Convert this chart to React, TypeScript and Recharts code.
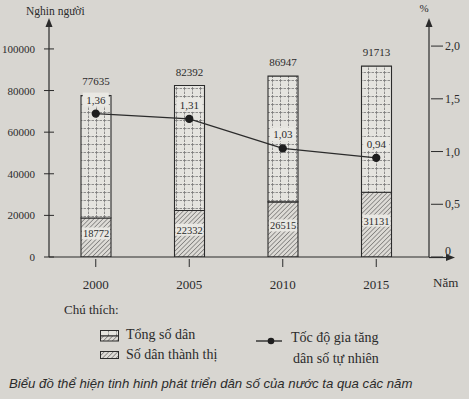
import React from "react";
import {
  ComposedChart,
  Bar,
  Line,
  XAxis,
  YAxis,
  LabelList,
} from "recharts";

const years = ["2000", "2005", "2010", "2015"];
const totalPop = [77635, 82392, 86947, 91713];
const urbanPop = [18772, 22332, 26515, 31131];
const growthRate = [1.36, 1.31, 1.03, 0.94];
const leftTicks = [0, 20000, 40000, 60000, 80000, 100000];
const rightTicks = [0, 0.5, 1.0, 1.5, 2.0];

const data = years.map((year, i) => ({
  year,
  total: totalPop[i],
  urban: urbanPop[i],
  rest: totalPop[i] - urbanPop[i],
  rate: growthRate[i],
}));

const BG = "#d8d6d1";
const INK = "#2b2b2b";
const SERIF = "'Liberation Serif', 'DejaVu Serif', serif";

function fmtComma(v: number, digits: number): string {
  return v.toFixed(digits).replace(".", ",");
}

function LeftTick(props: any) {
  const { x, y, payload } = props;
  return (
    <g>
      <line x1={x + 3} x2={x + 13} y1={y} y2={y} stroke={INK} strokeWidth={1} />
      <text x={x - 6} y={y} dy={4} textAnchor="end" fontSize={11} fill={INK} fontFamily={SERIF}>
        {payload.value}
      </text>
    </g>
  );
}

function RightTick(props: any) {
  const { x, y, payload } = props;
  return (
    <g>
      <line x1={x - 6} x2={x + 6} y1={y} y2={y} stroke={INK} strokeWidth={1} />
      <text x={x + 8} y={y} dy={payload.value === 0 ? -2 : 4} textAnchor="start" fontSize={12} fill={INK} fontFamily={SERIF}>
        {payload.value === 0 ? "0" : fmtComma(payload.value, 1)}
      </text>
    </g>
  );
}

function YearTick(props: any) {
  const { x, y, payload } = props;
  return (
    <g>
      <line x1={x} x2={x} y1={y - 6} y2={y + 2} stroke={INK} strokeWidth={1} />
      <text x={x} y={y + 24} textAnchor="middle" fontSize={13} fill={INK} fontFamily={SERIF}>
        {payload.value}
      </text>
    </g>
  );
}

function UrbanLabel(props: any) {
  const { x, y, width, height, value } = props;
  const cy = y + height / 2 - 4;
  return (
    <g>
      <rect x={x + 1} y={cy - 6} width={width - 2} height={12} fill="#e9e8e3" />
      <text x={x + width / 2} y={cy} dy={4} textAnchor="middle" fontSize={10.5} fill={INK} fontFamily={SERIF}>
        {value}
      </text>
    </g>
  );
}

function RateLabel(props: any) {
  const { x, y, value } = props;
  const cy = y - 14;
  return (
    <g>
      <rect x={x - 13} y={cy - 7} width={26} height={14} fill="#e9e8e3" />
      <text x={x} y={cy} dy={4} textAnchor="middle" fontSize={11} fill={INK} fontFamily={SERIF}>
        {fmtComma(value, 2)}
      </text>
    </g>
  );
}

function Patterns({ prefix }: { prefix: string }) {
  return (
    <defs>
      <pattern id={`${prefix}grid`} width={8} height={8} patternUnits="userSpaceOnUse">
        <rect width={8} height={8} fill="#e5e4df" />
        <path d="M0 0.5 H8 M0.5 0 V8" stroke="#777" strokeWidth={0.8} strokeDasharray="2.5 1" />
      </pattern>
      <pattern id={`${prefix}hatch`} width={3.2} height={3.2} patternUnits="userSpaceOnUse" patternTransform="rotate(45)">
        <rect width={3.2} height={3.2} fill="#dddbd6" />
        <line x1={0} y1={0} x2={0} y2={3.2} stroke="#3a3a3a" strokeWidth={0.9} />
      </pattern>
    </defs>
  );
}

export default function App() {
  return (
    <div
      style={{
        position: "absolute",
        left: 0,
        top: 0,
        width: 469,
        height: 399,
        background: BG,
        fontFamily: SERIF,
        color: INK,
        overflow: "hidden",
      }}
    >
      <svg width={0} height={0} style={{ position: "absolute" }}>
        <Patterns prefix="c-" />
      </svg>
      <div style={{ position: "absolute", left: 0, top: 0 }}>
        <ComposedChart
          width={469}
          height={300}
          data={data}
          margin={{ top: 25, right: 0, left: 0, bottom: 0 }}
          barSize={30}
        >
          <XAxis
            dataKey="year"
            height={43}
            padding={{ left: 0, right: 6 }}
            axisLine={{ stroke: INK, strokeWidth: 1.2 }}
            tickLine={false}
            tick={<YearTick />}
            interval={0}
          />
          <YAxis
            yAxisId="left"
            width={49}
            domain={[0, 111500]}
            ticks={leftTicks}
            axisLine={{ stroke: INK, strokeWidth: 1.2 }}
            tickLine={false}
            tick={<LeftTick />}
            allowDataOverflow
          />
          <YAxis
            yAxisId="right"
            orientation="right"
            width={40}
            domain={[0, 2.2]}
            ticks={rightTicks}
            axisLine={{ stroke: INK, strokeWidth: 1.2 }}
            tickLine={false}
            tick={<RightTick />}
            allowDataOverflow
          />
          <Bar
            yAxisId="left"
            dataKey="urban"
            stackId="pop"
            fill="url(#c-hatch)"
            stroke={INK}
            strokeWidth={1.1}
            isAnimationActive={false}
          >
            <LabelList dataKey="urban" content={<UrbanLabel />} />
          </Bar>
          <Bar
            yAxisId="left"
            dataKey="rest"
            stackId="pop"
            fill="url(#c-grid)"
            stroke={INK}
            strokeWidth={1.1}
            isAnimationActive={false}
          >
            <LabelList
              dataKey="total"
              position="top"
              offset={10}
              fontSize={11}
              fill={INK}
              fontFamily={SERIF}
            />
          </Bar>
          <Line
            yAxisId="right"
            dataKey="rate"
            stroke={INK}
            strokeWidth={1.3}
            dot={{ r: 3.5, fill: "#1e1e1e", stroke: "#1e1e1e" }}
            isAnimationActive={false}
          >
            <LabelList dataKey="rate" content={<RateLabel />} />
          </Line>
        </ComposedChart>
      </div>

      {/* axis arrows and titles */}
      <svg width={469} height={300} style={{ position: "absolute", left: 0, top: 0, pointerEvents: "none" }}>
        <path d="M49 18 L45.5 27 L52.5 27 Z" fill={INK} />
        <line x1={49} x2={49} y1={22} y2={26} stroke={INK} strokeWidth={1.2} />
        <path d="M429 18 L425.5 27 L432.5 27 Z" fill={INK} />
        <line x1={429} x2={429} y1={22} y2={26} stroke={INK} strokeWidth={1.2} />
        <line x1={429} x2={448} y1={257.5} y2={257.5} stroke={INK} strokeWidth={1.2} />
        <path d="M455 257.5 L446 254 L446 261 Z" fill={INK} />
        <text x={26} y={15} fontSize={11.5} fill={INK} fontFamily={SERIF}>Nghin người</text>
        <text x={424} y={12} fontSize={11} fill={INK} fontFamily={SERIF} textAnchor="middle">%</text>
        <text x={433} y={287} fontSize={13} fill={INK} fontFamily={SERIF}>Năm</text>
      </svg>

      {/* legend */}
      <div style={{ position: "absolute", left: 64, top: 302, fontSize: 13 }}>Chú thích:</div>
      <svg width={20} height={12} style={{ position: "absolute", left: 100, top: 330 }}>
        <Patterns prefix="l-" />
        <rect x={0.5} y={0.5} width={18} height={5.5} fill="url(#l-grid)" stroke={INK} />
        <rect x={0.5} y={6} width={18} height={5} fill="url(#l-hatch)" stroke={INK} />
      </svg>
      <div style={{ position: "absolute", left: 126, top: 327, fontSize: 14 }}>Tổng số dân</div>
      <svg width={20} height={9} style={{ position: "absolute", left: 100, top: 351 }}>
        <rect x={0.5} y={0.5} width={18} height={7} fill="url(#l-hatch)" stroke={INK} />
      </svg>
      <div style={{ position: "absolute", left: 126, top: 347, fontSize: 14 }}>Số dân thành thị</div>
      <svg width={30} height={10} style={{ position: "absolute", left: 256, top: 336 }}>
        <line x1={0} x2={26} y1={5} y2={5} stroke={INK} strokeWidth={1.4} />
        <circle cx={15} cy={5} r={3.3} fill="#1e1e1e" />
      </svg>
      <div style={{ position: "absolute", left: 291, top: 330, fontSize: 14 }}>Tốc độ gia tăng</div>
      <div style={{ position: "absolute", left: 293, top: 351, fontSize: 14 }}>dân số tự nhiên</div>
      <div
        style={{
          position: "absolute",
          left: 9,
          top: 376,
          fontSize: 13.2,
          fontStyle: "italic",
          fontFamily: "'Liberation Sans', Arial, sans-serif",
          whiteSpace: "nowrap",
        }}
      >
        Biểu đồ thể hiện tinh hinh phát triển dân số của nước ta qua các năm
      </div>
    </div>
  );
}
